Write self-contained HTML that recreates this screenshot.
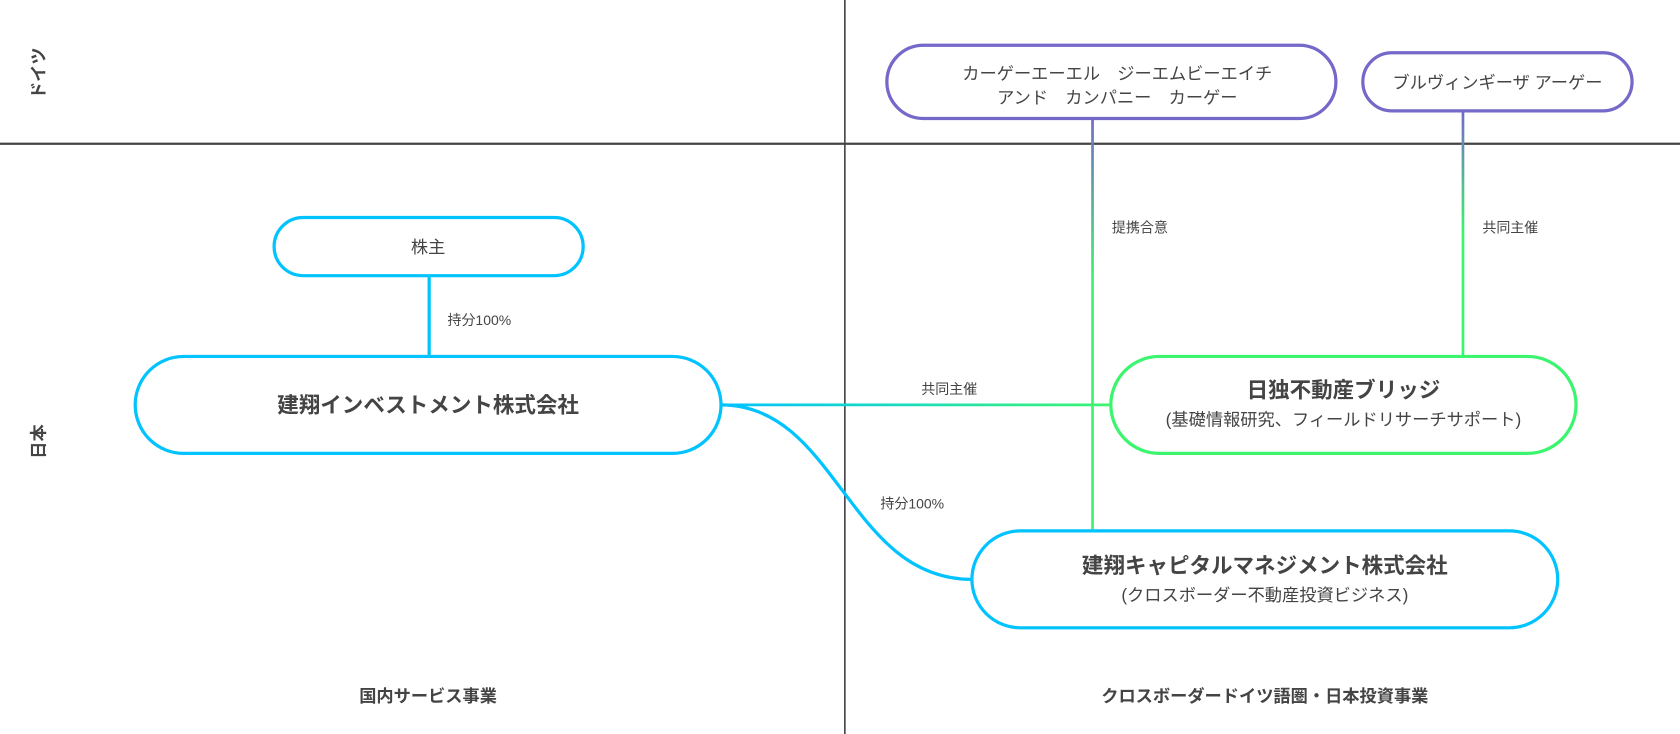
<!DOCTYPE html>
<html><head><meta charset="utf-8"><style>
html,body{margin:0;padding:0;background:#fff;}
svg{display:block;}
text{font-family:"Liberation Sans","Noto Sans CJK JP",sans-serif;fill:#444;}
</style></head><body>
<svg width="1680" height="734" viewBox="2.5 0 1560 681.6" xmlns="http://www.w3.org/2000/svg">
<defs>
<linearGradient id="g1" gradientUnits="userSpaceOnUse" x1="0" y1="110" x2="0" y2="493"><stop offset="0" stop-color="#7468c9"/><stop offset="0.4" stop-color="#3cf56e"/><stop offset="1" stop-color="#3cf56e"/></linearGradient>
<linearGradient id="g2" gradientUnits="userSpaceOnUse" x1="0" y1="103" x2="0" y2="331"><stop offset="0" stop-color="#7468c9"/><stop offset="0.5" stop-color="#3cf56e"/><stop offset="1" stop-color="#3cf56e"/></linearGradient>
<linearGradient id="g3" gradientUnits="userSpaceOnUse" x1="672" y1="0" x2="1034" y2="0"><stop offset="0" stop-color="#00c3ff"/><stop offset="1" stop-color="#3cf56e"/></linearGradient>
</defs>
<line x1="787" y1="0" x2="787" y2="684" stroke="#444" stroke-width="1.5"/>
<line x1="0" y1="133.5" x2="1565" y2="133.5" stroke="#444" stroke-width="2"/>
<text transform="translate(44,68) rotate(-90)" font-size="16" font-weight="bold" text-anchor="middle">ドイツ</text>
<text transform="translate(44,410) rotate(-90)" font-size="16" font-weight="bold" text-anchor="middle">日本</text>

<line x1="1017" y1="110" x2="1017" y2="493" stroke="url(#g1)" stroke-width="2.5"/>
<line x1="1361" y1="103" x2="1361" y2="331" stroke="url(#g2)" stroke-width="2.5"/>
<line x1="401" y1="256" x2="401" y2="331" stroke="#00c3ff" stroke-width="3"/>
<line x1="672" y1="376" x2="1034" y2="376" stroke="url(#g3)" stroke-width="2.5"/>
<path d="M672 376 C 780 376, 790 538, 905 538" fill="none" stroke="#00c3ff" stroke-width="3"/>

<rect x="826" y="42" width="417" height="68" rx="34" fill="#fff" stroke="#7468c9" stroke-width="3"/>
<text x="1040" y="74" font-size="16" text-anchor="middle">カーゲーエーエル　ジーエムビーエイチ</text>
<text x="1040" y="96" font-size="16" text-anchor="middle">アンド　カンパニー　カーゲー</text>
<rect x="1268" y="49" width="250" height="54" rx="27" fill="#fff" stroke="#7468c9" stroke-width="3"/>
<text x="1393" y="82" font-size="16" text-anchor="middle">ブルヴィンギーザ アーゲー</text>

<rect x="257" y="202" width="287" height="54" rx="27" fill="#fff" stroke="#00c3ff" stroke-width="3"/>
<text x="400" y="235" font-size="16" text-anchor="middle">株主</text>
<rect x="128" y="331" width="544" height="90" rx="45" fill="#fff" stroke="#00c3ff" stroke-width="3"/>
<text x="400" y="383" font-size="20" font-weight="bold" text-anchor="middle">建翔インベストメント株式会社</text>

<rect x="1034" y="331" width="432" height="90" rx="45" fill="#fff" stroke="#3cf56e" stroke-width="3"/>
<text x="1250" y="369" font-size="20" font-weight="bold" text-anchor="middle">日独不動産ブリッジ</text>
<text x="1250" y="395" font-size="16" text-anchor="middle">(基礎情報研究、フィールドリサーチサポート)</text>

<rect x="905" y="493" width="544" height="90" rx="45" fill="#fff" stroke="#00c3ff" stroke-width="3"/>
<text x="1177" y="532" font-size="20" font-weight="bold" text-anchor="middle">建翔キャピタルマネジメント株式会社</text>
<text x="1177" y="558" font-size="16" text-anchor="middle">(クロスボーダー不動産投資ビジネス)</text>

<text x="418" y="302" font-size="13">持分100%</text>
<text x="858" y="366" font-size="13">共同主催</text>
<text x="820" y="472" font-size="13">持分100%</text>
<text x="1035" y="216" font-size="13">提携合意</text>
<text x="1379" y="216" font-size="13">共同主催</text>

<text x="400" y="652" font-size="16" font-weight="bold" text-anchor="middle">国内サービス事業</text>
<text x="1177" y="652" font-size="16" font-weight="bold" text-anchor="middle">クロスボーダードイツ語圏・日本投資事業</text>
</svg>
</body></html>
